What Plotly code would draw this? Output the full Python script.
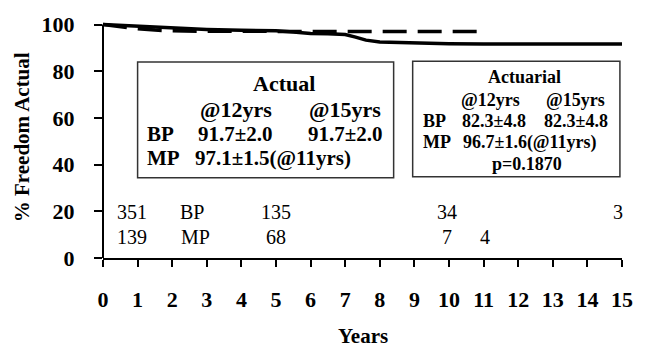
import plotly.graph_objects as go

# ---- data ----
bp_years = [0, 1, 2, 3, 4, 5, 5.5, 6, 6.5, 7, 7.3, 7.6, 8, 9, 10, 11, 12, 13, 14, 15]
bp_vals = [100, 99.2, 98.5, 97.9, 97.5, 97.3, 96.8, 96.2, 96.0, 95.7, 94.6, 93.3, 92.5, 92.1, 91.8, 91.7, 91.7, 91.7, 91.7, 91.7]

mp_years = [0, 0.5, 1, 1.5, 2, 3, 4, 5, 6, 7, 8, 9, 10, 11]
mp_vals = [100, 99.0, 98.2, 97.6, 97.3, 97.1, 97.0, 97.0, 97.0, 97.0, 97.0, 97.0, 97.0, 97.0]

x_ticks = list(range(0, 16))
y_ticks = [0, 20, 40, 60, 80, 100]

# numbers at risk
bp_risk_x = [0.85, 5.0, 9.95, 14.89]
bp_risk = ["351", "135", "34", "3"]
mp_risk_x = [0.85, 5.0, 9.95, 11.03]
mp_risk = ["139", "68", "7", "4"]

actual_rows = ["BP", "MP"]
actual_cols = ["@12yrs", "@15yrs"]
actual_bp = ["91.7±2.0", "91.7±2.0"]
actual_mp = "97.1±1.5(@11yrs)"

actuarial_cols = ["@12yrs", "@15yrs"]
actuarial_bp = ["82.3±4.8", "82.3±4.8"]
actuarial_mp = "96.7±1.6(@11yrs)"
p_value = "p=0.1870"

YMAX = 101.5
FONT = "Liberation Serif"

fig = go.Figure()
fig.add_trace(go.Scatter(x=bp_years, y=bp_vals, mode="lines",
                         line=dict(color="black", width=3.5), showlegend=False))
fig.add_trace(go.Scatter(x=mp_years, y=mp_vals, mode="lines",
                         line=dict(color="black", width=3.5, dash="24px,11px"), showlegend=False))

ann = []
def txt(x, y, s, size, bold=True, xanchor="center", **kw):
    ann.append(dict(x=x, y=y, xref="x", yref="y", text=s, showarrow=False,
                    xanchor=xanchor, yanchor="middle", borderpad=0,
                    font=dict(family=FONT, size=size, color="black",
                              weight="bold" if bold else "normal"), **kw))

# Actual box
txt(5.22, 74.7, "Actual", 22)
txt(3.83, 63.6, actual_cols[0], 22)
txt(7.0, 63.6, actual_cols[1], 22)
txt(1.25, 53.0, actual_rows[0], 21, xanchor="left")
txt(3.83, 53.0, actual_bp[0], 21)
txt(7.0, 53.0, actual_bp[1], 21)
txt(1.25, 42.8, actual_rows[1], 21, xanchor="left")
txt(2.62, 42.8, actual_mp, 21, xanchor="left")

# Actuarial box
txt(12.19, 77.6, "Actuarial", 18)
txt(11.2, 67.5, actuarial_cols[0], 18)
txt(13.67, 67.5, actuarial_cols[1], 18)
txt(9.21, 58.7, "BP", 18, xanchor="left")
txt(11.3, 58.7, actuarial_bp[0], 18)
txt(13.67, 58.7, actuarial_bp[1], 18)
txt(9.21, 49.5, "MP", 18, xanchor="left")
txt(10.38, 49.5, actuarial_mp, 18, xanchor="left")
txt(12.25, 40.3, p_value, 18)

# numbers at risk
for xv, s in zip(bp_risk_x, bp_risk):
    txt(xv, 19.7, s, 20, bold=False)
for xv, s in zip(mp_risk_x, mp_risk):
    txt(xv, 8.8, s, 20, bold=False)
txt(2.58, 19.7, "BP", 20, bold=False)
txt(2.67, 8.8, "MP", 20, bold=False)

# axis titles
ann.append(dict(x=0, y=51.7, xref="paper", yref="y", text="% Freedom Actual", showarrow=False,
                textangle=-90, xanchor="center", yanchor="middle", xshift=-81,
                font=dict(family=FONT, size=21, color="black", weight="bold")))
ann.append(dict(x=7.5, y=0, xref="x", yref="paper", text="Years", showarrow=False,
                xanchor="center", yanchor="middle", yshift=-78, borderpad=0,
                font=dict(family=FONT, size=21, color="black", weight="bold")))

shapes = [
    dict(type="rect", xref="x", yref="y", x0=1.0, x1=8.4, y0=34.4, y1=83.9,
         line=dict(color="#333", width=1.5)),
    dict(type="rect", xref="x", yref="y", x0=8.95, x1=14.94, y0=34.8, y1=84.3,
         line=dict(color="#333", width=1.5)),
    dict(type="line", xref="paper", yref="paper", x0=0, x1=0, y0=0, y1=100 / YMAX,
         line=dict(color="black", width=2)),
]

fig.update_layout(
    width=645, height=347,
    margin=dict(l=103, r=13, t=16, b=89),
    paper_bgcolor="white", plot_bgcolor="white",
    annotations=ann, shapes=shapes,
    xaxis=dict(range=[0, 15], tickvals=x_ticks, ticks="outside", ticklen=7, tickwidth=2,
               tickcolor="black", showline=True, linecolor="black", linewidth=2,
               showgrid=False, zeroline=False, ticklabelstandoff=14,
               tickfont=dict(family=FONT, size=22, color="black", weight="bold")),
    yaxis=dict(range=[0, YMAX], tickvals=y_ticks, ticks="outside", ticklen=8, tickwidth=2,
               tickcolor="black", showline=False, showgrid=False, zeroline=False,
               ticklabelstandoff=15,
               tickfont=dict(family=FONT, size=22, color="black", weight="bold")),
)

fig.write_html("out.html", config={"displayModeBar": False},
               post_script="document.body.style.margin='0';")
